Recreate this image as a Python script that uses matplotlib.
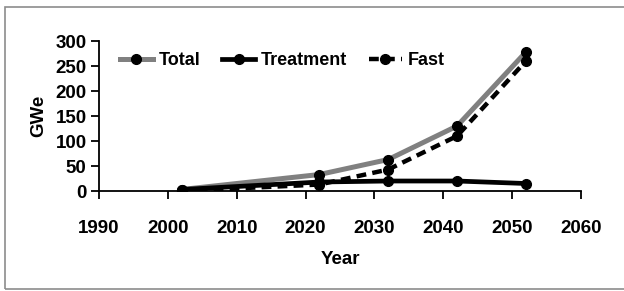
import matplotlib
matplotlib.use("Agg")
import matplotlib.pyplot as plt
import matplotlib.patches as patches

plt.rcParams['font.family'] = ['Liberation Sans', 'DejaVu Sans']
plt.rcParams['font.weight'] = 'bold'

# data
years = [2002, 2022, 2032, 2042, 2052]
total = [3, 33, 63, 130, 278]
treatment = [3, 18, 20, 20, 15]
fast = [0, 13, 43, 110, 260]

xticks = list(range(1990, 2061, 10))
yticks = list(range(0, 301, 50))

fig = plt.figure(figsize=(6.24, 2.91), dpi=100)
ax = fig.add_axes([0.1587, 0.3436, 0.7724, 0.5154])

# thin grey frame round the chart
fig.patches.append(patches.Rectangle((5 / 624, 2 / 291), 1.2, 282 / 291,
                                     transform=fig.transFigure, fill=False,
                                     edgecolor='#8c8c8c', linewidth=1.2))

ax.plot(years, total, '-o', color='#808080', lw=3.6, ms=7,
        mfc='black', mec='black', label='Total', zorder=3)
ax.plot(years, treatment, '-o', color='black', lw=3.4, ms=7, label='Treatment', zorder=4)
ax.plot(years, fast, '--o', color='black', lw=3.2, ms=7, dashes=(2.2, 1.4),
        label='Fast', zorder=5)

ax.set_xlim(1990, 2060)
ax.set_ylim(0, 300)
ax.set_xticks(xticks)
ax.set_yticks(yticks)
for s in ['top', 'right']:
    ax.spines[s].set_visible(False)
for s in ['left', 'bottom']:
    ax.spines[s].set_linewidth(1.3)
ax.tick_params(direction='out', length=6, width=1.3, labelsize=13.5, pad=3)
ax.tick_params(axis='x', pad=15)

ax.set_xlabel('Year', fontsize=13.5, fontweight='bold', labelpad=10)
ax.set_ylabel('GWe', fontsize=13.5, fontweight='bold', labelpad=6)

ax.legend(loc='upper left', bbox_to_anchor=(0.01, 1.035), ncol=3, frameon=False,
          fontsize=13, handlelength=1.8, handletextpad=0.35, columnspacing=1.2)

fig.savefig('out.png', dpi=100)
